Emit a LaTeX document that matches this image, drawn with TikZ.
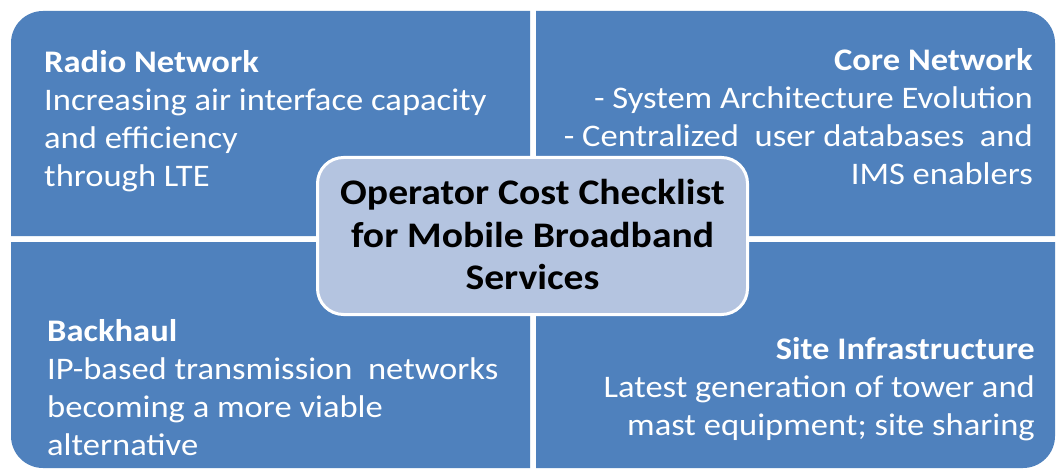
\documentclass[tikz,border=0pt]{standalone}
\usepackage{fontspec}
\setmainfont[FakeStretch=1.1]{Carlito}
\definecolor{quadblue}{RGB}{79,129,189}
\definecolor{centerfill}{RGB}{180,196,224}
\begin{document}
\begin{tikzpicture}[x=1pt,y=1pt,
  quad/.style={fill=quadblue},
  qtxt/.style={text=white,inner sep=0pt,font=\fontsize{31.4}{38}\selectfont},
  qhead/.style={qtxt,font=\fontsize{31.4}{38}\selectfont\bfseries},
  ctxt/.style={text=black,inner sep=0pt,font=\fontsize{36}{42}\selectfont\bfseries},
  centerbox/.style={draw=white,line width=3pt,fill=centerfill,rounded corners=26pt,
    minimum width=430pt,minimum height=157pt,inner sep=0pt}]
\useasboundingbox (0,0) rectangle (1056,469);
\fill[white] (0,0) rectangle (1056,469);
% quadrants
\fill[quad] (530,233) -- (11,233) -- (11,426) arc[start angle=180,end angle=90,radius=32] -- (530,458) -- cycle;
\fill[quad] (536,233) -- (536,458) -- (1023,458) arc[start angle=90,end angle=0,radius=32] -- (1055,233) -- cycle;
\fill[quad] (530,227) -- (11,227) -- (11,33) arc[start angle=180,end angle=270,radius=32] -- (530,1) -- cycle;
\fill[quad] (536,227) -- (1055,227) -- (1055,33) arc[start angle=0,end angle=-90,radius=32] -- (536,1) -- cycle;
% center
\node[centerbox] (center) at (532.5,233) {};
\node[ctxt,anchor=base] (c1) at (532.5,265) {Operator Cost Checklist};
\node[ctxt,anchor=base] (c2) at (532.5,222) {for Mobile Broadband};
\node[ctxt,anchor=base] (c3) at (532.5,180) {Services};
% top left
\node[qhead,anchor=base west] (tl1) at (44,396) {Radio Network};
\node[qtxt,anchor=base west] (tl2) at (44,358) {Increasing air interface capacity};
\node[qtxt,anchor=base west] (tl3) at (44,320) {and efficiency};
\node[qtxt,anchor=base west] (tl4) at (44,282) {through LTE};
% top right
\node[qhead,anchor=base east] (tr1) at (1033,398.5) {Core Network};
\node[qtxt,anchor=base east] (tr2) at (1033,360.5) {- System Architecture Evolution};
\node[qtxt,anchor=base east] (tr3) at (1033,322.5) {- Centralized\ \ user databases\ \ and};
\node[qtxt,anchor=base east] (tr4) at (1033,284.5) {IMS enablers};
% bottom left
\node[qhead,anchor=base west] (bl1) at (47,128) {Backhaul};
\node[qtxt,anchor=base west] (bl2) at (47,90) {IP-based transmission\ \ networks};
\node[qtxt,anchor=base west] (bl3) at (47,52) {becoming a more viable};
\node[qtxt,anchor=base west] (bl4) at (47,14) {alternative};
% bottom right
\node[qhead,anchor=base east] (br1) at (1035,110) {Site Infrastructure};
\node[qtxt,anchor=base east] (br2) at (1035,72) {Latest generation of tower and};
\node[qtxt,anchor=base east] (br3) at (1035,34) {mast equipment; site sharing};
\end{tikzpicture}
\end{document}
